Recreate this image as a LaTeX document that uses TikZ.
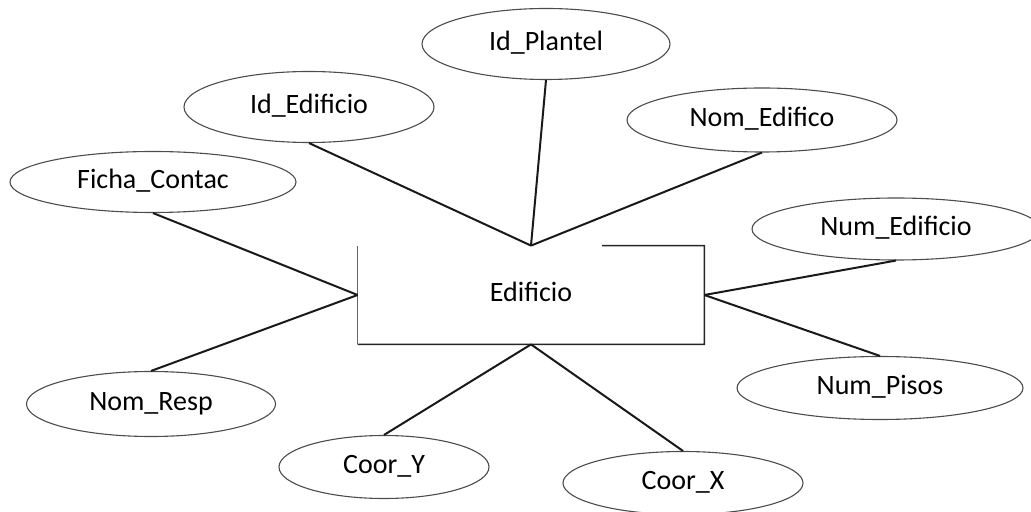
\documentclass[tikz,border=0pt]{standalone}
\usepackage{fontspec}
\setmainfont{Carlito}
\usetikzlibrary{shapes.geometric,calc}
\tikzset{
  attr/.style={ellipse, draw=black!70, line width=0.55pt, inner sep=0pt,
    font=\fontsize{14}{16}\selectfont, text height=0.65em, text depth=0pt},
  entity/.style={rectangle, minimum width=173pt, minimum height=49pt, inner sep=0pt,
    font=\fontsize{14}{16}\selectfont, text height=0.65em, text depth=0pt},
  link/.style={line width=1pt, draw=black!90},
  frame/.style={line width=0.8pt, draw=black!85}
}
\begin{document}
\begin{tikzpicture}[x=0.5pt,y=-0.5pt]
\useasboundingbox (0,0) rectangle (1031,512);
% central entity, its top edge only partly drawn
\node[entity] (ent) at (531,295) {Edificio};
\draw[frame] ($(ent.north east)!0.295!(ent.north west)$) -- (ent.north east)
  -- (ent.south east) -- (ent.south west);
\draw[frame, draw=black!60] (ent.south west) -- (ent.north west);
% attributes
\node[attr, minimum width=124pt, minimum height=35.5pt] (idp) at (546,44)  {Id\_Plantel};
\node[attr, minimum width=125pt, minimum height=35.5pt] (ide) at (309,107) {Id\_Edificio};
\node[attr, minimum width=135pt, minimum height=32pt]   (nme) at (762,120) {Nom\_Edifico};
\node[attr, minimum width=143pt, minimum height=30.5pt] (fch) at (153,182) {Ficha\_Contac};
\node[attr, minimum width=144pt, minimum height=31pt]   (nue) at (896,229) {Num\_Edificio};
\node[attr, minimum width=143pt, minimum height=31.5pt] (nup) at (880,388) {Num\_Pisos};
\node[attr, minimum width=124.5pt, minimum height=32.5pt] (nmr) at (151,404) {Nom\_Resp};
\node[attr, minimum width=105pt, minimum height=31.5pt] (cy) at (384,467) {Coor\_Y};
\node[attr, minimum width=120pt, minimum height=31.5pt] (cx) at (683,483) {Coor\_X};
% connectors
\draw[link] (idp.south) -- (ent.north);
\draw[link] (ide.south) -- (ent.north);
\draw[link] (nme.south) -- (ent.north);
\draw[link] (fch.south) -- (ent.west);
\draw[link] (nmr.north) -- (ent.west);
\draw[link] (nue.south) -- (ent.east);
\draw[link] (nup.north) -- (ent.east);
\draw[link] (cy.north) -- (ent.south);
\draw[link] (cx.north) -- (ent.south);
\end{tikzpicture}
\end{document}
